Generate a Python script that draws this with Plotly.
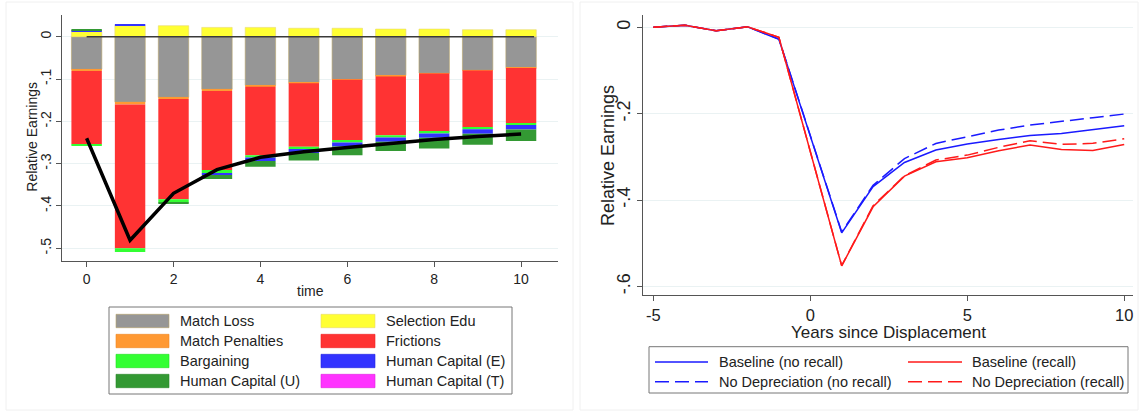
import plotly.graph_objects as go

W, H = 1140, 412
FONT = "Liberation Sans, Arial, sans-serif"
TXT = "#222222"

# ---------------- left panel: decomposition of the earnings loss ----------------
time = [0, 1, 2, 3, 4, 5, 6, 7, 8, 9, 10]

match_loss = [-0.077, -0.154, -0.143, -0.124, -0.115, -0.108, -0.101, -0.092, -0.086, -0.079, -0.073]
selection_edu = [0.012, 0.026, 0.026, 0.022, 0.022, 0.020, 0.020, 0.018, 0.018, 0.0165, 0.0165]
match_penalties = [-0.004, -0.006, -0.004, -0.004, -0.003, -0.002, -0.001, -0.002, -0.001, -0.001, -0.001]
frictions = [-0.173, -0.340, -0.237, -0.187, -0.162, -0.150, -0.142, -0.139, -0.138, -0.134, -0.130]
bargaining = [-0.004, -0.009, -0.008, -0.007, -0.0055, -0.0055, -0.006, -0.005, -0.004, -0.0045, -0.0045]
hc_employed = [0.002, 0.003, 0.0, -0.005, -0.008, -0.009, -0.0095, -0.010, -0.010, -0.011, -0.011]
hc_unemployed = [0.003, 0.0, -0.003, -0.0095, -0.0135, -0.018, -0.0205, -0.022, -0.025, -0.026, -0.027]
hc_training = [0, 0, 0, 0, 0, 0, 0, 0, 0, 0, 0]

total_loss = [-0.240, -0.481, -0.370, -0.314, -0.285, -0.272, -0.262, -0.252, -0.243, -0.236, -0.230]
zero_x = [0, 10.3]
zero_y = [0, 0]

# name, values, fill, outline colour, outline width
components = [
    ("Match Loss", match_loss, "#969696", "#b9a46a", 0.6),
    ("Selection Edu", selection_edu, "#ffff33", "#e8d870", 0.6),
    ("Match Penalties", match_penalties, "#ff9933", "#ee8822", 0),
    ("Frictions", frictions, "#ff3333", "#ee2222", 0),
    ("Bargaining", bargaining, "#33ff33", "#22dd22", 0),
    ("Human Capital (E)", hc_employed, "#3333ff", "#2222dd", 0),
    ("Human Capital (U)", hc_unemployed, "#339933", "#2a882a", 0),
    ("Human Capital (T)", hc_training, "#ff33ff", "#dd22dd", 0),
]

# ---------------- right panel: earnings paths ----------------
years = [-5, -4, -3, -2, -1, 0, 1, 2, 3, 4, 5, 6, 7, 8, 9, 10]
baseline_norecall = [0, 0.005, -0.008, 0.001, -0.028, -0.250, -0.476, -0.369, -0.313, -0.284,
                     -0.2705, -0.260, -0.2504, -0.2457, -0.2364, -0.228]
nodep_norecall = [0, 0.005, -0.008, 0.001, -0.027, -0.250, -0.474, -0.366, -0.304, -0.269,
                  -0.2535, -0.238, -0.2264, -0.2188, -0.2095, -0.2009]
baseline_recall = [0, 0.005, -0.008, 0.001, -0.023, -0.290, -0.5525, -0.4157, -0.3446, -0.3114,
                   -0.3021, -0.2859, -0.2727, -0.2828, -0.2851, -0.2712]
nodep_recall = [0, 0.005, -0.008, 0.001, -0.023, -0.290, -0.552, -0.413, -0.344, -0.3075,
                -0.296, -0.278, -0.2628, -0.2712, -0.2688, -0.2582]

paths = [
    ("Baseline (no recall)", baseline_norecall, "#1a1aff", "solid"),
    ("No Depreciation (no recall)", nodep_norecall, "#1a1aff", "14px,6px"),
    ("Baseline (recall)", baseline_recall, "#ff1a1a", "solid"),
    ("No Depreciation (recall)", nodep_recall, "#ff1a1a", "14px,6px"),
]


def px(x):
    return x / W


def py(y):
    return 1 - y / H


fig = go.Figure()

for name, vals, fill, edge, ew in components:
    fig.add_trace(go.Bar(
        x=time, y=vals, name=name, width=0.7,
        marker=dict(color=fill, line=dict(color=edge, width=ew)),
        xaxis="x", yaxis="y", showlegend=False,
    ))

fig.add_trace(go.Scatter(x=zero_x, y=zero_y, mode="lines",
                         line=dict(color="#3a3a3a", width=1.4),
                         xaxis="x", yaxis="y", showlegend=False))
fig.add_trace(go.Scatter(x=time, y=total_loss, mode="lines",
                         line=dict(color="black", width=3.5),
                         xaxis="x", yaxis="y", showlegend=False))

for name, vals, col, dash in paths:
    fig.add_trace(go.Scatter(x=years, y=vals, mode="lines", name=name,
                             line=dict(color=col, width=1.5, dash=dash),
                             xaxis="x2", yaxis="y2", showlegend=False))

axis_common = dict(showline=True, linecolor="#555555", linewidth=1.2,
                   ticks="outside", tickcolor="#555555", ticklen=5, tickwidth=1,
                   zeroline=False, automargin=False, fixedrange=True)

fig.update_layout(
    width=W, height=H,
    margin=dict(l=0, r=0, t=0, b=0),
    paper_bgcolor="white", plot_bgcolor="white",
    barmode="relative",
    font=dict(family=FONT, color=TXT),
    xaxis=dict(domain=[px(62.3), px(558)], range=[-0.56, 10.85],
               tickvals=[0, 2, 4, 6, 8, 10], showgrid=False,
               tickfont=dict(size=14, family=FONT, color=TXT),
               anchor="y", **axis_common),
    yaxis=dict(domain=[py(261), py(15)], range=[-0.530, 0.0513],
               tickvals=[-0.5, -0.4, -0.3, -0.2, -0.1, 0],
               ticktext=["-.5", "-.4", "-.3", "-.2", "-.1", "0"],
               tickangle=-90, showgrid=True, gridcolor="#eaf2f3", gridwidth=1,
               tickfont=dict(size=14, family=FONT, color=TXT),
               anchor="x", **axis_common),
    xaxis2=dict(domain=[px(643.3), px(1133)], range=[-5.32, 10.28],
                tickvals=[-5, 0, 5, 10], ticktext=["-5", "0", "5", "10"],
                showgrid=False,
                tickfont=dict(size=16.5, family=FONT, color=TXT),
                anchor="y2", **axis_common),
    yaxis2=dict(domain=[py(295), py(15)], range=[-0.620, 0.0285],
                tickvals=[-0.6, -0.4, -0.2, 0],
                ticktext=["-.6", "-.4", "-.2", "0"],
                tickangle=-90, showgrid=True, gridcolor="#eaf2f3", gridwidth=1,
                tickfont=dict(size=18, family=FONT, color=TXT),
                anchor="x2", **axis_common),
)

shapes = []
annotations = []


def label(text, x, y, size, angle=0, xanchor="center"):
    annotations.append(dict(text=text, x=px(x), y=py(y), xref="paper", yref="paper",
                            showarrow=False, textangle=angle, xanchor=xanchor,
                            yanchor="middle", font=dict(size=size, family=FONT, color=TXT)))


# faint graph-region frames
shapes.append(dict(type="rect", xref="paper", yref="paper", x0=px(6), x1=px(573),
                   y0=py(410), y1=py(2), line=dict(color="#f0f0f0", width=1)))
shapes.append(dict(type="rect", xref="paper", yref="paper", x0=px(580), x1=px(1138),
                   y0=py(410), y1=py(2), line=dict(color="#f0f0f0", width=1)))

# axis titles
label("Relative Earnings", 31.7, 137, 14, angle=-90)
label("time", 310, 291, 14)
label("Relative Earnings", 608, 156, 18, angle=-90)
label("Years since Displacement", 888.5, 332, 17)

# legend of the decomposition
shapes.append(dict(type="rect", xref="paper", yref="paper", x0=px(109), x1=px(512),
                   y0=py(394), y1=py(307), line=dict(color="#777777", width=1),
                   fillcolor="white"))
col_x = [(116, 169, 178), (321, 375, 384)]
row_y = [321, 341, 361, 381]
for i, (name, _vals, fill, edge, _ew) in enumerate(components):
    r, c = divmod(i, 2)
    sx0, sx1, tx = col_x[c]
    yc = row_y[r]
    shapes.append(dict(type="rect", xref="paper", yref="paper", x0=px(sx0), x1=px(sx1),
                       y0=py(yc + 6.7), y1=py(yc - 6.7), fillcolor=fill,
                       line=dict(color=edge, width=0.6)))
    label(name, tx, yc, 14.5, xanchor="left")

# legend of the earnings paths
shapes.append(dict(type="rect", xref="paper", yref="paper", x0=px(649), x1=px(1128),
                   y0=py(393), y1=py(346.7), line=dict(color="#777777", width=1),
                   fillcolor="white"))
path_cols = [(655, 708, 716.7), (908, 962, 970)]
path_rows = [362, 381.7]
order = [(0, 0), (1, 0), (0, 1), (1, 1)]
for (name, _vals, col, dash), (r, c) in zip(paths, order):
    sx0, sx1, tx = path_cols[c]
    yc = path_rows[r]
    shapes.append(dict(type="line", xref="paper", yref="paper", x0=px(sx0), x1=px(sx1),
                       y0=py(yc), y1=py(yc),
                       line=dict(color=col, width=1.5, dash=dash)))
    label(name, tx, yc, 14.5, xanchor="left")

fig.update_layout(shapes=shapes, annotations=annotations)

fig.write_html("out.html")
